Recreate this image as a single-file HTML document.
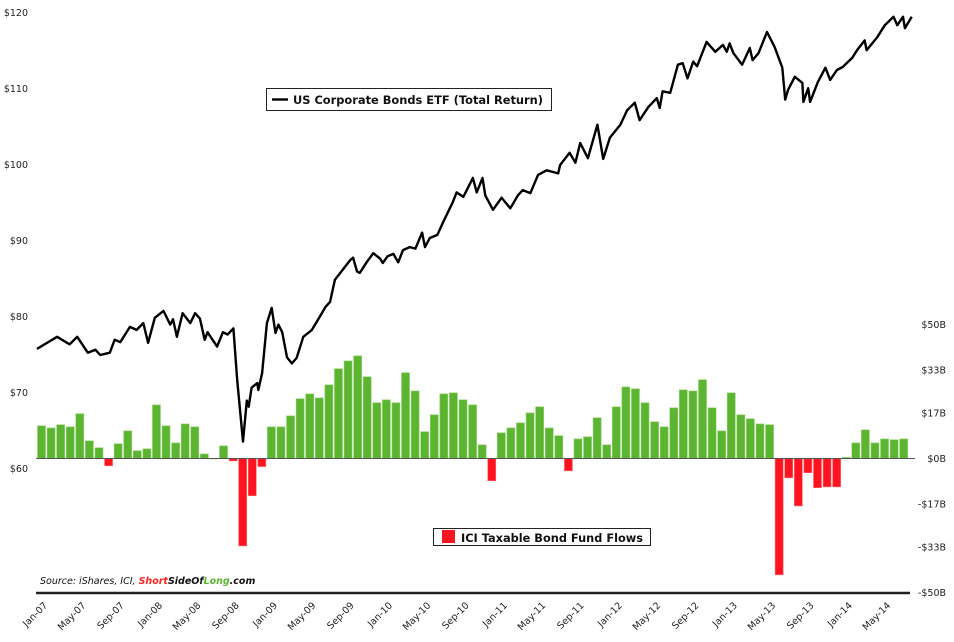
<!DOCTYPE html>
<html><head><meta charset="utf-8"><style>
html,body{margin:0;padding:0;background:#fff;}
svg{display:block;font-family:"DejaVu Sans","Liberation Sans",sans-serif;}
</style></head><body>
<svg id="chart" width="954" height="642" viewBox="0 0 954 642" xmlns="http://www.w3.org/2000/svg">
<g id="bars"></g>
<line x1="36" y1="458.5" x2="915" y2="458.5" stroke="#555" stroke-width="1"/>
<path id="line" fill="none" stroke="#000" stroke-width="2.4" stroke-linejoin="round"/>
<line x1="36" y1="593" x2="910" y2="593" stroke="#222" stroke-width="2.5"/>
<g id="leftTicks" font-size="9.5" fill="#222" text-anchor="end"></g>
<g id="rightTicks" font-size="9.5" fill="#222" text-anchor="end"></g>
<g id="xTicks" font-size="9.5" fill="#222" text-anchor="end"></g>
<g>
<rect x="266.5" y="88.5" width="285" height="22" fill="#fff" stroke="#222" stroke-width="1"/>
<line x1="272" y1="99.5" x2="288" y2="99.5" stroke="#000" stroke-width="2.4"/>
<text x="293" y="104" font-size="11.5" font-weight="bold" fill="#111" textLength="250" lengthAdjust="spacingAndGlyphs">US Corporate Bonds ETF (Total Return)</text>
</g>
<g>
<rect x="433.5" y="528.5" width="217" height="17" fill="#fff" stroke="#222" stroke-width="1"/>
<rect x="442" y="530" width="13" height="13" fill="#ff1320"/>
<text x="461" y="542" font-size="11.5" font-weight="bold" fill="#111" textLength="182" lengthAdjust="spacingAndGlyphs">ICI Taxable Bond Fund Flows</text>
</g>
<text x="40" y="584" font-size="9.5" font-style="italic" fill="#111">Source: iShares, ICI, <tspan fill="#ff2020" font-weight="bold">Short</tspan><tspan font-weight="bold">SideOf</tspan><tspan fill="#5cb531" font-weight="bold">Long</tspan><tspan font-weight="bold">.com</tspan></text>
</svg>
<script>
const flowValues=[12.2,11.4,12.6,11.8,16.7,6.6,4.0,-2.7,5.5,10.3,2.9,3.6,
20,12.2,5.8,12.9,11.8,1.7,0,4.7,-0.9,-32.6,-13.9,-3.0,
11.8,11.8,15.9,22.3,24.1,22.6,27.5,33.5,36.4,38.3,30.5,20.8,
21.9,20.8,32,25.2,10,16.3,24.1,24.5,21.9,20,5.1,-8.3,
9.6,11.4,13.3,17,19.3,11.4,8.5,-4.6,7.3,8.1,15.2,5.1,
19.3,26.7,26,20.8,13.7,11.8,18.9,25.6,25.2,29.4,18.9,10.3,
24.5,16.3,14.8,12.9,12.6,-43.4,-7.2,-17.7,-5.3,-10.9,-10.6,-10.6,
0.4,5.8,10.7,5.8,7.3,7.0,7.3];
const priceMonths=[0,2.1,3.4,4.2,5.3,6.1,6.6,7.6,8.1,8.7,9.7,10.4,11.1,11.6,12.3,13.2,13.9,14.2,14.6,15.2,16.0,16.5,17.0,17.5,17.8,18.8,19.4,19.9,20.5,20.9,21.5,21.9,22.1,22.4,23.0,23.1,23.5,24.0,24.5,24.9,25.2,25.6,26.1,26.6,27.1,27.8,28.7,29.5,30.1,30.6,31.1,31.9,32.7,33.0,33.4,33.7,34.4,35.1,35.8,36.1,36.6,37.2,37.7,38.2,38.9,39.5,40.2,40.5,41.0,41.8,42.4,43.4,43.8,44.5,45.5,45.9,46.5,46.8,47.6,48.5,49.4,50.2,50.7,51.5,52.3,53.2,54.4,54.6,55.6,56.2,56.7,57.5,58.5,59.1,59.8,60.9,61.6,62.4,62.9,63.8,64.7,65.0,65.3,66.1,66.9,67.4,67.9,68.5,68.9,69.9,70.8,71.6,72.0,72.3,72.7,73.6,74.4,74.7,75.3,76.2,77.0,77.8,78.1,78.4,79.1,79.9,80.0,80.5,80.7,81.5,82.3,82.8,83.5,84.1,85.1,85.6,86.4,86.6,87.7,88.5,89.4,89.8,90.4,90.6,91.3];
const priceValues=[75.8,77.4,76.4,77.4,75.3,75.7,75.0,75.3,77.0,76.7,78.7,78.3,79.2,76.6,79.9,80.8,79.0,79.7,77.4,80.5,79.2,80.5,79.8,77.0,78.0,76.1,78.0,77.7,78.5,71.7,63.6,69.0,68.2,70.7,71.3,70.4,72.6,79.2,81.2,77.9,79.0,78.0,74.7,73.9,74.6,77.4,78.3,80.0,81.3,82.0,84.9,86.2,87.5,87.8,86.0,85.8,87.2,88.4,87.7,87.1,88.0,88.3,87.2,88.8,89.2,89.0,91.1,89.2,90.4,90.8,92.5,95.1,96.4,95.8,98.3,96.4,98.3,96.0,94.1,95.7,94.3,96.0,96.7,96.3,98.7,99.3,98.9,100.0,101.6,100.3,102.9,100.9,105.3,100.8,103.6,105.3,107.2,108.2,105.9,107.6,108.8,107.5,109.7,109.5,113.2,113.4,111.4,113.6,113.0,116.2,114.9,115.8,114.9,116.0,114.7,113.2,115.4,113.8,114.7,117.5,115.5,112.8,108.6,109.9,111.6,110.8,108.3,110.1,108.3,110.9,112.8,111.2,112.5,112.9,114.1,115.1,116.4,115.1,116.8,118.4,119.5,118.4,119.5,118.0,119.5];
const leftTickValues=[60,70,80,90,100,110,120];
const rightTickValues=[50,33,17,0,-17,-33,-50];
const rightTickLabels=["$50B","$33B","$17B","$0B","-$17B","-$33B","-$50B"];
const xTickLabels=["Jan-07","May-07","Sep-07","Jan-08","May-08","Sep-08","Jan-09","May-09","Sep-09","Jan-10","May-10","Sep-10","Jan-11","May-11","Sep-11","Jan-12","May-12","Sep-12","Jan-13","May-13","Sep-13","Jan-14","May-14"];

const NS="http://www.w3.org/2000/svg";
const xm=m=>37+9.58*m;
const yPrice=p=>469-(p-60)*7.6;
const yFlow=v=>458.5-v*2.68;
function mk(tag,parent){const e=document.createElementNS(NS,tag);parent.appendChild(e);return e;}

const bars=document.getElementById('bars');
flowValues.forEach((v,i)=>{
  const r=mk('rect',bars);
  
  
  const y0=yFlow(0),y1=yFlow(v);
  r.setAttribute('x',xm(i)+0.5);
  r.setAttribute('width',8);
  r.setAttribute('y',Math.min(y0,y1));
  r.setAttribute('height',Math.max(Math.abs(y1-y0),0.5));
  r.setAttribute('fill',v>=0?'#5cb531':'#ff1320');
  r.setAttribute('stroke',v>=0?'#8fd06a':'#ff6a6a');
  r.setAttribute('stroke-width','0.6');
});

let d='';
priceMonths.forEach((m,i)=>{d+=(i?'L':'M')+xm(m).toFixed(1)+' '+yPrice(priceValues[i]).toFixed(1);});
document.getElementById('line').setAttribute('d',d);

const lt=document.getElementById('leftTicks');
leftTickValues.forEach(v=>{
  const t=mk('text',lt);
  
  
  t.setAttribute('x',28);t.setAttribute('y',yPrice(v)+3);
  t.textContent='$'+v;
});
const rt=document.getElementById('rightTicks');
rightTickValues.forEach((v,i)=>{
  const t=mk('text',rt);
  
  
  t.setAttribute('x',946);t.setAttribute('y',yFlow(v)+3.5);
  t.textContent=rightTickLabels[i];
});
const xt=document.getElementById('xTicks');
xTickLabels.forEach((s,i)=>{
  const t=mk('text',xt);
  
  
  const x=xm(i*4)+11,y=606;
  t.setAttribute('transform','translate('+x+','+y+') rotate(-45)');
  t.textContent=s;
});
</script>
</body></html>
